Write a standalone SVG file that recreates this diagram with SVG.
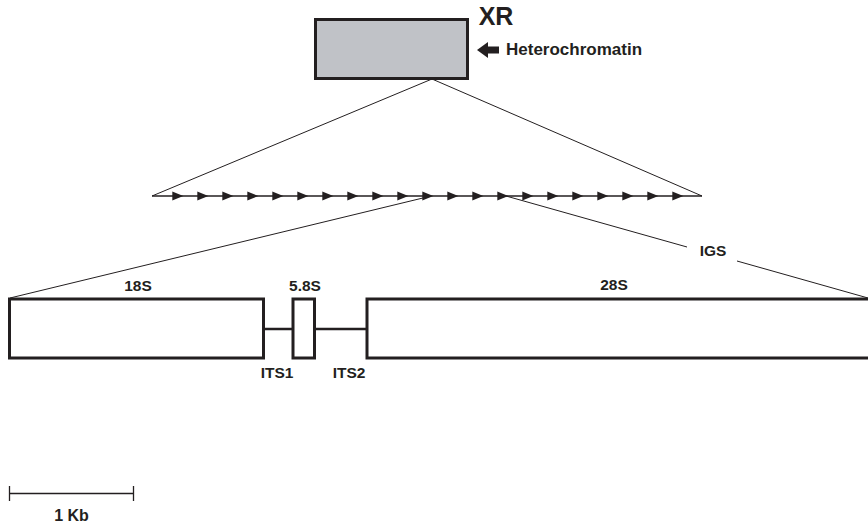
<svg xmlns="http://www.w3.org/2000/svg" width="868" height="524" viewBox="0 0 868 524">
<defs>
<style>
.t{font-family:"Liberation Sans",Arial,sans-serif;font-weight:bold;fill:#231f20;text-anchor:middle}
.box{fill:#fff;stroke:#231f20;stroke-width:3}
.thin{stroke:#231f20;stroke-width:1;fill:none}
.lnk{stroke:#231f20;stroke-width:2.5;fill:none}
</style>
<path id="ah" d="M-11,-4.5 L0,0 L-11,4.5 Z" fill="#231f20"/>
</defs>
<rect width="868" height="524" fill="#fff"/>

<g id="connectors">
<line class="thin" x1="432" y1="79" x2="152" y2="196"/>
<line class="thin" x1="432" y1="79" x2="702" y2="196"/>
<line class="thin" x1="427" y1="197" x2="10" y2="298"/>
<line class="thin" x1="506" y1="196" x2="687" y2="247"/>
<line class="thin" x1="737" y1="261" x2="868" y2="298"/>
<line class="lnk" x1="264" y1="329" x2="293" y2="329"/>
<line class="lnk" x1="315" y1="329" x2="367" y2="329"/>
</g>

<g id="xr">
<rect x="315.5" y="19.5" width="152" height="59" fill="#c0c2c7" stroke="#231f20" stroke-width="3"/>
<text class="t" x="496" y="25" font-size="25">XR</text>
</g>

<g id="heterochromatin">
<path d="M477,50 L488,42 L488,46.5 L499,46.5 L499,53.5 L488,53.5 L488,58 Z" fill="#231f20"/>
<text class="t" x="506" y="55" font-size="17" style="text-anchor:start">Heterochromatin</text>
</g>

<g id="repeats">
<line x1="152" y1="196" x2="702" y2="196" stroke="#231f20" stroke-width="1.3"/>
<use href="#ah" x="183.3" y="196"/><use href="#ah" x="208.3" y="196"/><use href="#ah" x="233.3" y="196"/>
<use href="#ah" x="258.3" y="196"/><use href="#ah" x="283.3" y="196"/><use href="#ah" x="308.3" y="196"/>
<use href="#ah" x="333.3" y="196"/><use href="#ah" x="358.3" y="196"/><use href="#ah" x="383.3" y="196"/>
<use href="#ah" x="408.3" y="196"/><use href="#ah" x="433.3" y="196"/><use href="#ah" x="458.3" y="196"/>
<use href="#ah" x="483.3" y="196"/><use href="#ah" x="508.3" y="196"/><use href="#ah" x="533.3" y="196"/>
<use href="#ah" x="558.3" y="196"/><use href="#ah" x="583.3" y="196"/><use href="#ah" x="608.3" y="196"/>
<use href="#ah" x="633.3" y="196"/><use href="#ah" x="658.3" y="196"/><use href="#ah" x="683.3" y="196"/>
</g>

<g id="igs">
<text class="t" x="713" y="256" font-size="15.5">IGS</text>
</g>

<g id="r18s">
<rect class="box" x="9.5" y="299" width="254" height="59"/>
<text class="t" x="138" y="291" font-size="15.5">18S</text>
</g>

<g id="its1">
<text class="t" x="277" y="377.5" font-size="15.5">ITS1</text>
</g>

<g id="r58s">
<rect class="box" x="293" y="299" width="21.5" height="59"/>
<text class="t" x="305" y="291" font-size="15.5">5.8S</text>
</g>

<g id="its2">
<text class="t" x="349" y="377.5" font-size="15.5">ITS2</text>
</g>

<g id="r28s">
<rect class="box" x="367" y="299" width="510" height="59"/>
<text class="t" x="614" y="290" font-size="15.5">28S</text>
</g>

<g id="scalebar">
<line x1="9.5" y1="493.5" x2="133.5" y2="493.5" stroke="#231f20" stroke-width="1.3"/>
<line x1="9.5" y1="486" x2="9.5" y2="501" stroke="#231f20" stroke-width="1.3"/>
<line x1="133.5" y1="486" x2="133.5" y2="501" stroke="#231f20" stroke-width="1.3"/>
<text class="t" x="71.5" y="520.5" font-size="16">1 Kb</text>
</g>
</svg>
